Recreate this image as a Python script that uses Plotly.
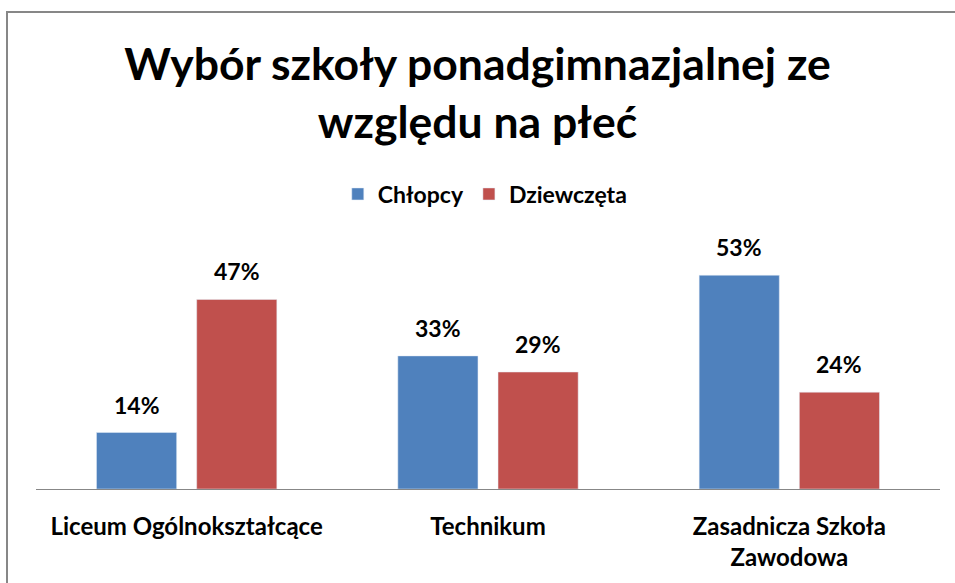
import plotly.graph_objects as go

categories = ["Liceum Ogólnokształcące", "Technikum", "Zasadnicza Szkoła<br>Zawodowa"]
chlopcy = [14, 33, 53]
dziewczeta = [47, 29, 24]
series_names = ["Chłopcy", "Dziewczęta"]
title_text = "Wybór szkoły ponadgimnazjalnej ze<br>względu na płeć"

FONT = "Lato"
BLUE = "#4F81BD"
RED = "#C0504D"

fig = go.Figure()
fig.add_trace(go.Bar(x=categories, y=chlopcy, name=f"<b>{series_names[0]}</b>", marker_color=BLUE))
fig.add_trace(go.Bar(x=categories, y=dziewczeta, name=f"<b>{series_names[1]}</b>", marker_color=RED))

annotations = []
for vals, shift in ((chlopcy, -50), (dziewczeta, 50)):
    for c, v in zip(categories, vals):
        annotations.append(dict(x=c, y=v, text=f"<b>{v}%</b>", showarrow=False,
                                xref="x", yref="y", xshift=shift, yanchor="bottom", yshift=12,
                                font=dict(family=FONT, size=23, color="black")))

fig.update_layout(
    width=955, height=583,
    margin=dict(l=36, r=15, t=247, b=94),
    paper_bgcolor="white", plot_bgcolor="white",
    barmode="group", bargap=0.335, bargroupgap=0.2,
    title=dict(text=f"<b>{title_text}</b>", x=0.5, xanchor="center", y=0.862, yanchor="middle",
               font=dict(family=FONT, size=44.5, color="black")),
    legend=dict(orientation="h", x=0.497, xanchor="center", y=1.219, yanchor="middle",
                font=dict(family=FONT, size=23, color="black"), bgcolor="rgba(0,0,0,0)"),
    xaxis=dict(showline=True, linecolor="#878787", linewidth=1, ticks="", showgrid=False,
               tickfont=dict(family=FONT, size=24, color="black"), ticklabelstandoff=16,
               tickprefix="<b>", ticksuffix="</b>"),
    yaxis=dict(range=[0, 60], visible=False, showgrid=False),
    annotations=annotations,
    shapes=[dict(type="rect", xref="paper", yref="paper",
                 x0=(7 - 36) / 904, x1=1.2, y0=-1, y1=(489 - 12) / 242,
                 line=dict(color="#878787", width=2), fillcolor="rgba(0,0,0,0)", layer="below")],
)
fig.write_html("out.html")
